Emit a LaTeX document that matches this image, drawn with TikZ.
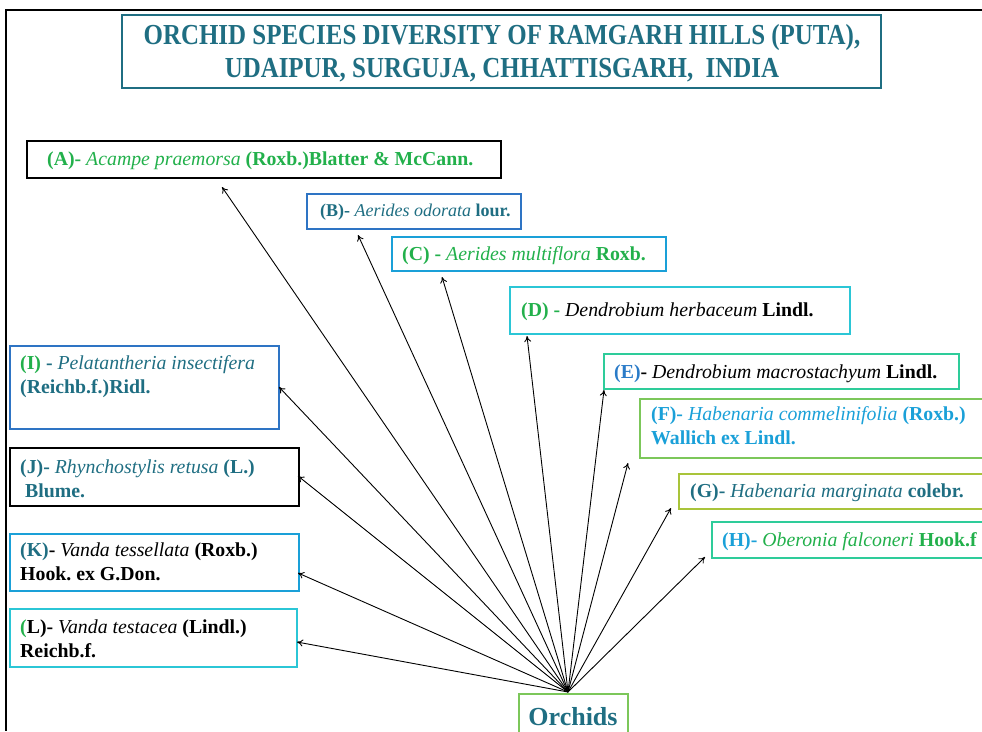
\documentclass[tikz,border=0pt]{standalone}
\usepackage{fontspec}
\setmainfont{Liberation Serif}
\usetikzlibrary{arrows.meta}
\frenchspacing
\definecolor{cgreen}{HTML}{22B04B}
\definecolor{cteal}{HTML}{1F6E82}
\definecolor{clblue}{HTML}{1AA0D8}
\definecolor{cblue}{HTML}{2A7BC8}
\definecolor{bblue}{HTML}{2E74C4}
\definecolor{bcyan}{HTML}{2BC6D6}
\definecolor{bteal}{HTML}{2ECC9A}
\definecolor{bgreen}{HTML}{7CC75A}
\definecolor{bolive}{HTML}{A9C43A}
\tikzset{
  box/.style={draw, line width=2pt, anchor=north west, inner sep=0pt},
  lbl/.style={anchor=base west, inner sep=0pt, font=\fontsize{19.8}{24}\selectfont, align=left},
  conn/.style={-{To[length=6pt,width=7pt]}, line width=0.9pt, black},
}
\newcommand{\bx}[6]{\node[box, draw=#6, minimum width=#3-#1, minimum height=#4-#2] (#5) at (#1,#2) {};}
\begin{document}
\frenchspacing
\begin{tikzpicture}[x=1pt,y=-1pt]
\useasboundingbox (0,0) rectangle (982,731);
% frame
\draw[line width=1.3pt] (982,10) -- (6,10) -- (6,731);
% title
\node[box, draw=cteal, line width=2.2pt, minimum width=759, minimum height=73] (title) at (121,14) {};
\node[anchor=base, font=\bfseries\fontsize{29}{33}\selectfont, text=cteal, align=center, inner sep=0pt] (ttl) at (502,77)
  {\scalebox{0.86}[1]{ORCHID SPECIES DIVERSITY OF RAMGARH HILLS (PUTA),}\\\scalebox{0.86}[1]{UDAIPUR, SURGUJA, CHHATTISGARH,\ \ INDIA}};
% boxes
\bx{26}{140}{500}{177}{A}{black}
\bx{306}{193}{520}{228}{B}{bblue}
\bx{391}{236}{665}{270}{C}{clblue}
\bx{509}{286}{849}{333}{D}{bcyan}
\bx{603}{353}{958}{388}{E}{bteal}
\bx{639}{398}{1000}{457}{F}{bgreen}
\bx{678}{473}{1000}{508}{G}{bolive}
\bx{711}{521}{1000}{557}{H}{bteal}
\bx{9}{345}{278}{428}{I}{bblue}
\bx{9}{447}{298}{505}{J}{black}
\bx{9}{533}{298}{590}{K}{clblue}
\bx{9}{608}{296}{666}{L}{bcyan}
\bx{518}{693}{627}{745}{O}{bgreen}
% texts (multi-line nodes: base = last line)
\node[lbl, text=cgreen] (tA) at (47,165) {\textbf{(A)-} \textit{Acampe praemorsa} \textbf{(Roxb.)Blatter \& McCann.}};
\node[lbl, text=cteal, font=\fontsize{18}{24}\selectfont] (tB) at (320,216) {\textbf{(B)-} \textit{Aerides odorata} \textbf{lour.}};
\node[lbl, text=cgreen] (tC) at (402,260) {\textbf{(C) -} \textit{Aerides multiflora} \textbf{Roxb.}};
\node[lbl] (tD) at (521,316) {\textcolor{cgreen}{\textbf{(D) -}} \textit{Dendrobium herbaceum} \textbf{Lindl.}};
\node[lbl] (tE) at (614,378) {\textcolor{cblue}{\textbf{(E)}}\textbf{-} \textit{Dendrobium macrostachyum} \textbf{Lindl.}};
\node[lbl, text=clblue] (tF) at (651,444) {\textbf{(F)-} \textit{Habenaria commelinifolia} \textbf{(Roxb.)}\\\textbf{Wallich ex Lindl.}};
\node[lbl, text=cteal] (tG) at (690,497) {\textbf{(G)-} \textit{Habenaria marginata} \textbf{colebr.}};
\node[lbl, text=cgreen] (tH) at (722,546) {\textcolor{clblue}{\textbf{(H)-}} \textit{Oberonia falconeri} \textbf{Hook.f}};
\node[lbl, text=cteal] (tI) at (20,393) {\textcolor{cgreen}{\textbf{(I)}} \textbf{-} \textit{Pelatantheria insectifera}\\\textbf{(Reichb.f.)Ridl.}};
\node[lbl, text=cteal] (tJ) at (20,497) {\textbf{(J)-} \textit{Rhynchostylis retusa} \textbf{(L.)}\\\ \textbf{Blume.}};
\node[lbl] (tK) at (20,580) {\textcolor{cteal}{\textbf{(K)}}\textbf{-} \textit{Vanda tessellata} \textbf{(Roxb.)}\\\textbf{Hook. ex G.Don.}};
\node[lbl] (tL) at (20,657) {\textcolor{cgreen}{\textbf{(}}\textbf{L)-} \textit{Vanda testacea} \textbf{(Lindl.)}\\\textbf{Reichb.f.}};
\node[anchor=base, inner sep=0pt, font=\bfseries\fontsize{26}{30}\selectfont, text=cteal] (tO) at (573,725) {Orchids};
% connector ends
\coordinate (src) at (568,692);
\coordinate (eA) at (222,187);
\coordinate (eB) at (358,235);
\coordinate (eC) at (442,277);
\coordinate (eD) at (527,336);
\coordinate (eE) at (604,390);
\coordinate (eF) at (628,463);
\coordinate (eG) at (671,508);
\coordinate (eH) at (705,557);
\coordinate (eI) at (279,387);
\coordinate (eJ) at (298,476);
\coordinate (eK) at (298,573);
\coordinate (eL) at (297,642);
\foreach \k in {A,B,C,D,E,F,G,H,I,J,K,L} \draw[conn] (src) -- (e\k);
\end{tikzpicture}
\end{document}
